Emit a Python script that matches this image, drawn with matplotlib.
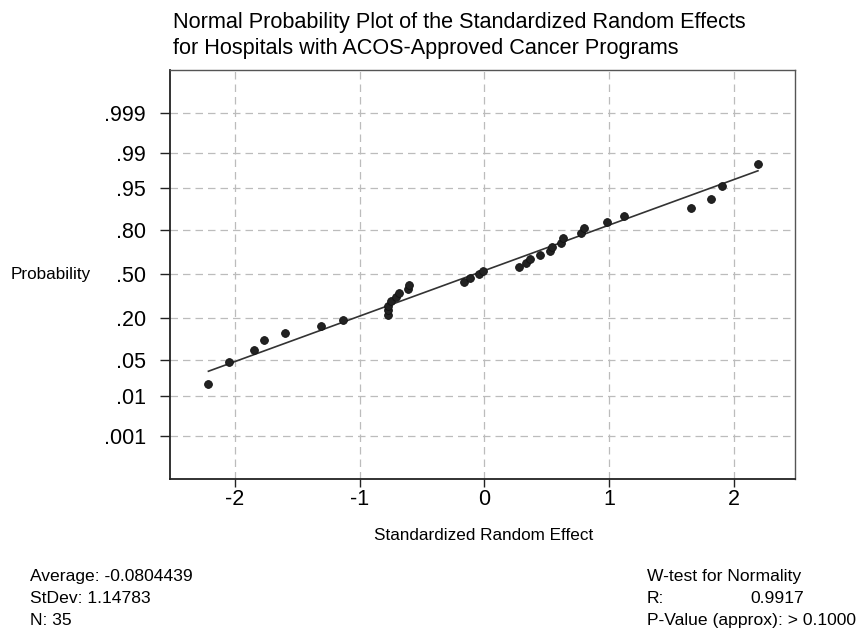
import numpy as np
import matplotlib
matplotlib.use("Agg")
import matplotlib.pyplot as plt
from statistics import NormalDist

plt.rcParams['font.family'] = ['Liberation Sans', 'DejaVu Sans']

# standardized random effects, sorted
effects = [-2.212, -2.051, -1.843, -1.765, -1.602, -1.313, -1.134,
           -0.776, -0.776, -0.774, -0.749, -0.706, -0.684, -0.615, -0.607,
           -0.166, -0.112, -0.045, -0.010,
           0.281, 0.337, 0.369, 0.444, 0.530, 0.543, 0.615, 0.628,
           0.778, 0.797, 0.979, 1.118, 1.653, 1.819, 1.907, 2.193]
avg = -0.0804439
sdev = 1.14783
r_val = 0.9917
prob_ticks = [0.001, 0.01, 0.05, 0.20, 0.50, 0.80, 0.95, 0.99, 0.999]
prob_labels = ['.001', '.01', '.05', '.20', '.50', '.80', '.95', '.99', '.999']
x_ticks = [-2, -1, 0, 1, 2]

nd = NormalDist()
_ppf = np.vectorize(nd.inv_cdf, otypes=[float])
_cdf = np.vectorize(nd.cdf, otypes=[float])

def fwd(p):
    p = np.clip(np.asarray(p, dtype=float), 1e-12, 1 - 1e-12)
    return _ppf(p)

def inv(z):
    return _cdf(np.asarray(z, dtype=float))

x = np.array(effects)
n = len(x)
# Minitab plotting positions
pos = (np.arange(1, n + 1) - 3.0 / 8) / (n + 0.25)

xl = np.array([x.min(), x.max()])
pl = inv((xl - avg) / sdev)

W, H = 861, 633
fig = plt.figure(figsize=(W / 100, H / 100), dpi=100)
ax = fig.add_axes([170 / W, 1 - 479 / H, (795 - 170) / W, (479 - 70) / H])
ax.set_yscale('function', functions=(fwd, inv))

ax.plot(xl, pl, color='#333333', lw=1.2, zorder=2)
ax.plot(x, pos, 'o', ms=5.6, color='#222222', mec='#111111', mew=0.6, zorder=3)

ax.set_xlim(-2.52, 2.49)
ax.set_ylim(inv(-3.92), inv(3.91))
ax.set_xticks(x_ticks)
ax.set_xticklabels([f'{t:d}' for t in x_ticks])
ax.set_yticks(prob_ticks)
ax.set_yticklabels(prob_labels)
ax.minorticks_off()

ax.grid(True, color='#bcbcbc', ls=(0, (6, 4)), lw=0.9)
ax.set_axisbelow(True)
ax.tick_params(axis='y', direction='out', length=7.5, width=1, color='#222222',
               labelsize=15.5, pad=10)
ax.tick_params(axis='x', direction='out', length=6, width=1, color='#222222',
               labelsize=15.5, pad=1.5)
for s in ['left', 'bottom']:
    ax.spines[s].set_color('#222222')
    ax.spines[s].set_linewidth(1.3)
for s in ['top', 'right']:
    ax.spines[s].set_color('#555555')
    ax.spines[s].set_linewidth(1.0)

fs_t = 15.6
fig.text(173 / W, 1 - 28.3 / H, 'Normal Probability Plot of the Standardized Random Effects',
         fontsize=fs_t, va='baseline', ha='left')
fig.text(173 / W, 1 - 54.3 / H, 'for Hospitals with ACOS-Approved Cancer Programs',
         fontsize=fs_t, va='baseline', ha='left')

fs = 12.3
fig.text(91 / W, 1 - 275 / H, 'Probability', fontsize=fs, ha='right', va='center')
fig.text(484 / W, 1 - 536 / H, 'Standardized Random Effect', fontsize=fs, ha='center', va='center')

fs_b = 12.6
fig.text(30 / W, 1 - 581 / H, f'Average: {avg}', fontsize=fs_b, va='baseline')
fig.text(30 / W, 1 - 603 / H, f'StDev: {sdev}', fontsize=fs_b, va='baseline')
fig.text(30 / W, 1 - 625 / H, f'N: {n}', fontsize=fs_b, va='baseline')

fig.text(647 / W, 1 - 581 / H, 'W-test for Normality', fontsize=fs_b, va='baseline')
fig.text(647 / W, 1 - 603 / H, 'R:', fontsize=fs_b, va='baseline')
fig.text(804 / W, 1 - 603 / H, f'{r_val:.4f}', fontsize=fs_b, va='baseline', ha='right')
fig.text(647 / W, 1 - 625 / H, 'P-Value (approx): > 0.1000', fontsize=fs_b, va='baseline')

fig.savefig('out.png', dpi=100)
